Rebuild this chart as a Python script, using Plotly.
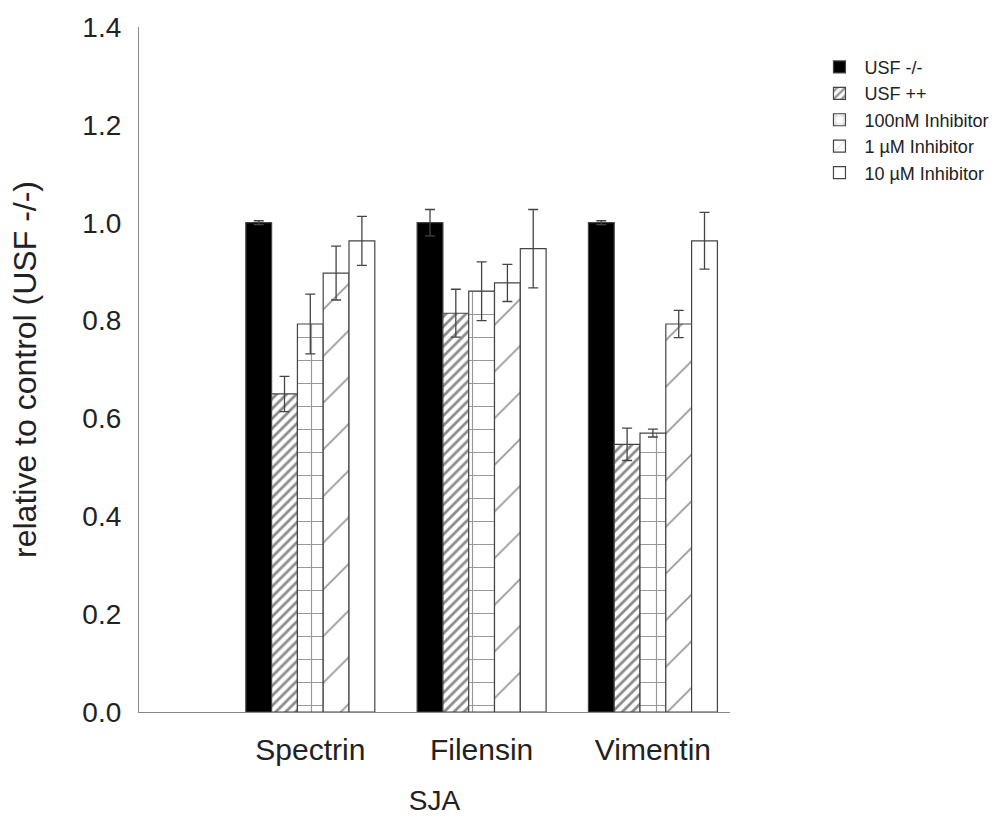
import plotly.graph_objects as go

categories = ["Spectrin", "Filensin", "Vimentin"]
series_names = ["USF -/-", "USF ++", "100nM Inhibitor", "1 \u00b5M Inhibitor", "10 \u00b5M Inhibitor"]
usf_neg = [1.0, 1.0, 1.0]
usf_neg_err = [0.004, 0.027, 0.004]
usf_pos = [0.65, 0.815, 0.547]
usf_pos_err = [0.036, 0.049, 0.033]
inh_100nm = [0.793, 0.86, 0.57]
inh_100nm_err = [0.061, 0.06, 0.008]
inh_1um = [0.897, 0.877, 0.793]
inh_1um_err = [0.055, 0.038, 0.028]
inh_10um = [0.963, 0.947, 0.963]
inh_10um_err = [0.05, 0.08, 0.058]
y_ticks = [0.0, 0.2, 0.4, 0.6, 0.8, 1.0, 1.2, 1.4]

values = [usf_neg, usf_pos, inh_100nm, inh_1um, inh_10um]
errors = [usf_neg_err, usf_pos_err, inh_100nm_err, inh_1um_err, inh_10um_err]
styles = [
    dict(color="#000000", pattern=dict(shape="")),
    dict(color="white", pattern=dict(shape="/", size=7, solidity=0.4, fgcolor="#1a1a1a", bgcolor="white")),
    dict(color="white", pattern=dict(shape="+", size=23, solidity=0.1, fgcolor="#333333", bgcolor="white")),
    dict(color="white", pattern=dict(shape="/", size=33, solidity=0.05, fgcolor="#2a2a2a", bgcolor="white")),
    dict(color="white", pattern=dict(shape="")),
]

fig = go.Figure()
for name, vals, errs, st in zip(series_names, values, errors, styles):
    fig.add_trace(go.Bar(
        x=categories, y=vals, name=name,
        marker=dict(color=st["color"], pattern=st["pattern"],
                    line=dict(color="#444444", width=1.2)),
        error_y=dict(type="data", array=errs, visible=True,
                     color="#444444", thickness=1.3, width=5),
    ))

font_family = "Liberation Sans, Arial, sans-serif"
fig.update_layout(
    width=1008, height=826,
    barmode="group", bargap=0.247, bargroupgap=0,
    plot_bgcolor="white", paper_bgcolor="white",
    margin=dict(l=139, r=278, t=27, b=114, autoexpand=False),
    font=dict(family=font_family, color="#222222", size=28),
    legend=dict(xref="container", yref="container", x=0.808, y=0.941,
                xanchor="left", yanchor="top",
                font=dict(size=18, color="#222222"),
                bgcolor="rgba(0,0,0,0)", tracegroupgap=0, itemwidth=40),
    xaxis=dict(
        type="category", range=[-1, 2.45],
        showline=True, linecolor="#888888", linewidth=1.2,
        ticks="", ticklabelstandoff=11, showgrid=False, zeroline=False,
        title=dict(text="SJA", standoff=25, font=dict(size=28)),
        tickfont=dict(size=30),
    ),
    yaxis=dict(
        range=[0, 1.4], tickvals=y_ticks, tickformat=".1f",
        showline=True, linecolor="#888888", linewidth=1.2,
        ticks="", ticklabelstandoff=11, showgrid=False, zeroline=False,
        title=dict(text="relative to control (USF -/-)", standoff=36, font=dict(size=32)),
        tickfont=dict(size=28),
    ),
)

fig.write_html("out.html")
